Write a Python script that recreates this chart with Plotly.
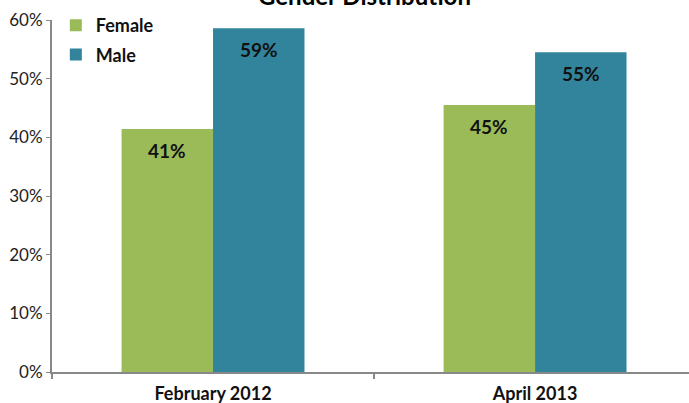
import plotly.graph_objects as go

categories = ["February 2012", "April 2013"]
female = [41.4, 45.5]
male = [58.6, 54.5]
female_labels = ["41%", "45%"]
male_labels = ["59%", "55%"]
y_ticks = [0, 10, 20, 30, 40, 50, 60]
y_tick_labels = [f"{v}%" for v in y_ticks]

FONT = "Lato"
GREEN = "#9BBB59"
TEAL = "#31849B"

fig = go.Figure()
fig.add_trace(go.Bar(name="Female", x=categories, y=female, marker_color=GREEN,
                     marker_line_width=0, legendgroup="f"))
fig.add_trace(go.Bar(name="Male", x=categories, y=male, marker_color=TEAL,
                     marker_line_width=0, legendgroup="m"))

offsets = [-0.568 / 4, 0.568 / 4]
for i, c in enumerate(categories):
    for vals, labs, off in ((female, female_labels, offsets[0]), (male, male_labels, offsets[1])):
        fig.add_annotation(x=i + off, y=vals[i], xref="x", yref="y", text=labs[i],
                           showarrow=False, yanchor="middle", yshift=-21,
                           font=dict(family=FONT, size=19, color="#111111", weight="bold"))

fig.add_annotation(text="Gender Distribution", xref="paper", yref="paper",
                   x=(364 - 52) / 637, y=1, xanchor="center", yanchor="bottom", yshift=8,
                   showarrow=False,
                   font=dict(family=FONT, size=24, color="#000000", weight="bold"))

fig.update_layout(
    width=689, height=403,
    margin=dict(l=52, r=0, t=20, b=31, autoexpand=False),
    paper_bgcolor="white", plot_bgcolor="white",
    barmode="group", bargap=0.432, bargroupgap=0,
    font=dict(family=FONT, color="#222222"),
    showlegend=True,
    legend=dict(x=0.006, y=1.037, xanchor="left", yanchor="top",
                bgcolor="rgba(0,0,0,0)", traceorder="grouped", tracegroupgap=3,
                font=dict(family=FONT, size=18, color="#111111", weight="bold"),
                itemwidth=30),
    xaxis=dict(range=[-0.5, 1.478], showline=True, linecolor="#888888", linewidth=2,
               ticks="outside", tickson="boundaries", ticklen=5, tickcolor="#888888",
               tickwidth=2, showgrid=False, zeroline=False, automargin=False,
               ticklabelstandoff=4,
               tickfont=dict(family=FONT, size=18, color="#111111", weight="bold")),
    yaxis=dict(range=[0, 60], tickvals=y_ticks, ticktext=y_tick_labels, showline=True,
               linecolor="#888888", linewidth=2, ticks="outside", ticklen=4,
               tickcolor="#888888", tickwidth=1, showgrid=False, zeroline=False,
               automargin=False,
               tickfont=dict(family=FONT, size=17, color="#222222")),
)

fig.write_html("out.html", config={"displayModeBar": False},
               post_script="document.body.style.margin='0';document.body.style.overflow='hidden';")
